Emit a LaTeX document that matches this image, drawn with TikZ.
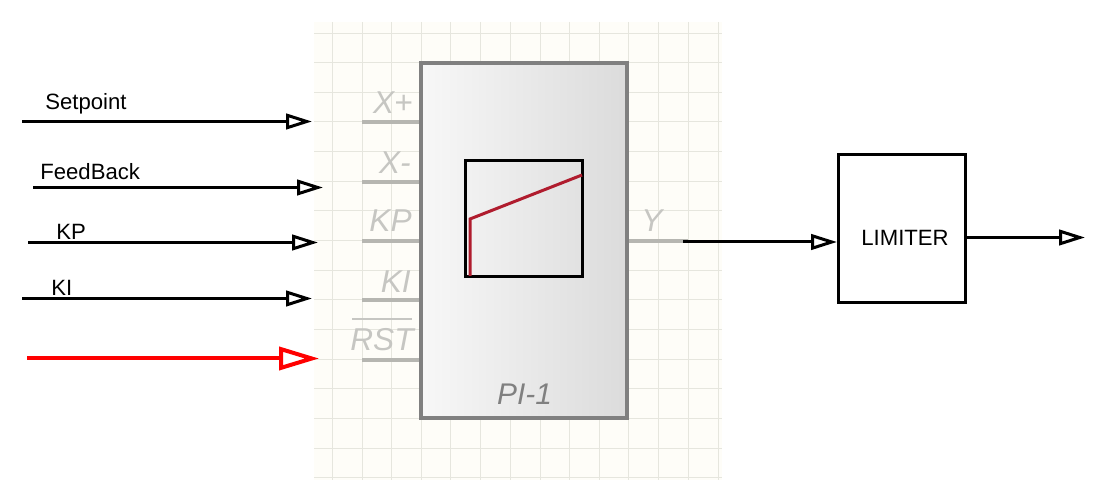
\documentclass[tikz,border=0pt]{standalone}
\usepackage{fontspec}
\setmainfont{Liberation Sans}
\usetikzlibrary{arrows.meta,calc}
\definecolor{gridline}{HTML}{E6E6DE}
\definecolor{gridback}{HTML}{FEFDF8}
\definecolor{pinline}{HTML}{B6B6B1}
\definecolor{pintext}{HTML}{C6C6C2}
\definecolor{curve}{HTML}{B01C2E}
\tikzset{%
	block/.style    = {draw=gray, line width=0.09cm, left color=white!97!black, right color=white!86!black, minimum width=4.12cm, minimum height=7.1cm},
	plotbox/.style  = {draw, line width=0.06cm, minimum width=2.36cm, minimum height=2.34cm},
	limbox/.style   = {draw, line width=0.06cm, minimum width=2.54cm, minimum height=2.98cm},
	pin/.style      = {draw=pinline, line width=0.07cm},
	pinlabel/.style = {text=pintext, font=\fontsize{18}{20}\selectfont\itshape, inner sep=0pt},
	siglabel/.style = {font=\fontsize{12.6}{15}\selectfont, anchor=base west, inner sep=0pt},
	arrow/.style    = {line width=0.06cm, -{Triangle[open, length=0.52cm, width=0.31cm, line width=0.06cm]}},
	redarrow/.style = {draw=red, line width=0.08cm, -{Triangle[open, length=0.8cm, width=0.46cm, line width=0.08cm]}},
}
\begin{document}
\begin{tikzpicture}[x=0.02cm,y=-0.02cm]
	\useasboundingbox (0,0) rectangle (1105,502);
	% grid behind the block
	\fill[gridback] (314,22) rectangle (722,480);
	\foreach \gx in {332,362,391.5,421,450.5,480,510,540,569.5,599,628.5,658,688,718}
		\draw[gridline, line width=0.02cm] (\gx,22) -- (\gx,480);
	\foreach \gy in {34,63,92.5,122,151.5,181.5,211,241,270.5,300,329.5,360,389,419,448.5,478}
		\draw[gridline, line width=0.02cm] (314,\gy) -- (722,\gy);
	% block
	\node[block] (pi) at (524,240.5) {};
	\node[plotbox] (plot) at (524,218.5) {};
	\draw[curve, line width=0.06cm] (470,276) -- (470,219) -- (582,175);
	\node[anchor=base, inner sep=0pt, text=gray, font=\fontsize{17}{20}\selectfont\itshape] (piname) at (524.5,405) {PI-1};
	% pins
	\coordinate (xplus) at (362,122);
	\coordinate (xminus) at (362,182);
	\coordinate (kp) at (362,241);
	\coordinate (ki) at (362,300);
	\coordinate (rst) at (362,360);
	\coordinate (yout) at (688,241);
	\draw[pin] (xplus) -- (xplus -| pi.west);
	\draw[pin] (xminus) -- (xminus -| pi.west);
	\draw[pin] (kp) -- (kp -| pi.west);
	\draw[pin] (ki) -- (ki -| pi.west);
	\draw[pin] (rst) -- (rst -| pi.west);
	\draw[pin] (yout -| pi.east) -- (yout);
	\node[pinlabel, anchor=base east] (xplustext) at (413,114) {X+};
	\node[pinlabel, anchor=base east] (xminustext) at (411,174) {X-};
	\node[pinlabel, anchor=base east] (kptext) at (412,232) {KP};
	\node[pinlabel, anchor=base east] (kitext) at (411,293) {KI};
	\node[pinlabel, anchor=base east] (rsttext) at (414,351) {RST};
	\draw[draw=pintext, line width=0.03cm] (352,319) -- (412,319);
	\node[pinlabel, anchor=base west] (ytext) at (641,232) {Y};
	% signals
	\coordinate (a1) at (22,121.5);
	\coordinate (a2) at (312,121.5);
	\coordinate (b1) at (33,187.5);
	\coordinate (b2) at (323,187.5);
	\coordinate (c1) at (28,242.5);
	\coordinate (c2) at (318,242.5);
	\coordinate (d1) at (22,298.5);
	\coordinate (d2) at (312,298.5);
	\coordinate (e1) at (27,358.5);
	\coordinate (e2) at (319,358.5);
	\draw[arrow] (a1) -- (a2);
	\draw[arrow] (b1) -- (b2);
	\draw[arrow] (c1) -- (c2);
	\draw[arrow] (d1) -- (d2);
	\draw[redarrow] (e1) -- (e2);
	\node[siglabel] (setpoint) at (45,110) {Setpoint};
	\node[siglabel] (feedback) at (40,180) {FeedBack};
	\node[siglabel] (kpsig) at (56,240) {KP};
	\node[siglabel] (kisig) at (51,296) {KI};
	% limiter
	\node[limbox] (lim) at (901.5,228.5) {};
	\node[siglabel] (limtext) at (861,246) {LIMITER};
	\coordinate (f1) at (683,242);
	\coordinate (f2) at (837,242);
	\coordinate (g2) at (1085,237.5);
	\draw[arrow] (f1) -- (f2);
	\draw[arrow] (g2 -| lim.east) -- (g2);
\end{tikzpicture}
\end{document}
